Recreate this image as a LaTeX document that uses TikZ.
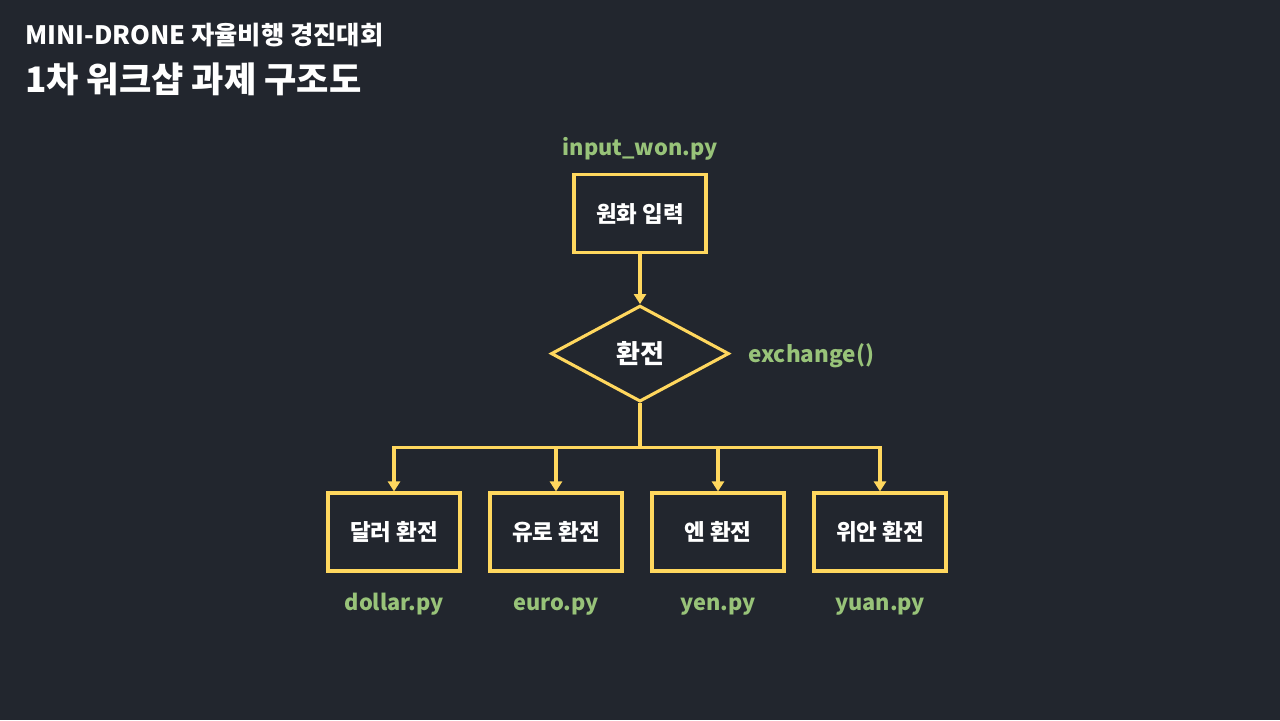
\documentclass[tikz,border=0pt]{standalone}
\usepackage{fontspec}
\setmainfont{Noto Sans CJK KR}
\usepackage{tikz}
\usetikzlibrary{shapes.geometric, arrows.meta, positioning, calc}
\definecolor{boardbg}{HTML}{22262E}
\definecolor{flowyellow}{HTML}{FFD75E}
\definecolor{filegreen}{HTML}{98C379}

\tikzset{
  stagebox/.style={draw=flowyellow, line width=2.2pt, minimum width=3.3cm, minimum height=1.95cm,
    text=white, font=\fontsize{16}{16}\selectfont\bfseries},
  pickdiamond/.style={diamond, draw=flowyellow, line width=2.2pt, minimum width=4.45cm, minimum height=2.4cm,
    inner sep=0pt, text=white, font=\fontsize{18.5}{18.5}\selectfont\bfseries},
  filelabel/.style={text=filegreen, anchor=base, inner sep=0pt, font=\fontsize{15.5}{15.5}\selectfont\bfseries},
  flowline/.style={flowyellow, line width=2.2pt},
  flowarrow/.style={flowline, -{Triangle[width=0.3cm,length=0.25cm]}}
}

\begin{document}
\begin{tikzpicture}
  % Background
  \fill[boardbg] (0,0) rectangle (32,-18);
  \useasboundingbox (0,0) rectangle (32,-18);

  % Titles
  \node[white, anchor=base west, inner sep=0pt, font=\fontsize{18}{18}\selectfont\bfseries] (title) at (0.62,-1.1) {MINI-DRONE 자율비행 경진대회};
  \node[white, anchor=base west, inner sep=0pt, font=\fontsize{25}{25}\selectfont\bfseries] (subtitle) at (0.62,-2.3) {1차 워크샵 과제 구조도};

  % Input stage
  \node[filelabel] (wonfile) at (16,-3.88) {input\_won.py};
  \node[stagebox] (won) at (16,-5.34) {원화 입력};

  % Exchange decision
  \node[pickdiamond] (exch) at (16,-8.84) {환전};
  \node[filelabel, anchor=base west, font=\fontsize{16}{16}\selectfont\bfseries] (exchfunc) at (18.7,-9.05) {exchange()};
  \coordinate (split) at (16,-11.18);

  % Currency stages
  \node[stagebox] (dollar) at (9.85,-13.3) {달러 환전};
  \node[stagebox] (euro) at (13.9,-13.3) {유로 환전};
  \node[stagebox] (yen) at (17.95,-13.3) {엔 환전};
  \node[stagebox] (yuan) at (22.0,-13.3) {위안 환전};

  % File labels below
  \node[filelabel] (dollarfile) at (9.85,-15.25) {dollar.py};
  \node[filelabel] (eurofile) at (13.9,-15.25) {euro.py};
  \node[filelabel] (yenfile) at (17.95,-15.25) {yen.py};
  \node[filelabel] (yuanfile) at (22.0,-15.25) {yuan.py};

  % Connectors
  \draw[flowarrow] (won) -- (exch);
  \draw[flowline] (exch.south) -- (split);
  \draw[flowline, line cap=rect] (split) -- (dollar.north |- split) (split) -- (yuan.north |- split);
  \draw[flowarrow] (dollar.north |- split) -- (dollar);
  \draw[flowarrow] (euro.north |- split) -- (euro);
  \draw[flowarrow] (yen.north |- split) -- (yen);
  \draw[flowarrow] (yuan.north |- split) -- (yuan);
\end{tikzpicture}
\end{document}
